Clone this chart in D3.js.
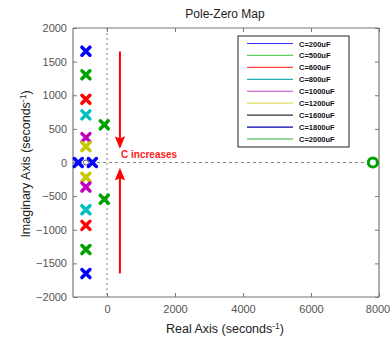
<!DOCTYPE html>
<html>
<head>
<meta charset="utf-8">
<script src="https://cdn.jsdelivr.net/npm/d3@7"></script>
<style>
  body { margin: 0; background: #fff; }
  svg { display: block; font-family: "Liberation Sans", Arial, sans-serif; }
</style>
</head>
<body>
<div id="chart"></div>
<script>
// Pole locations (real, imag) and marker colour
const poleRe = [-620, -620, -620, -620, -620, -620, -620, -620, -620, -620, -620, -620, -80, -80, -845, -430];
const poleIm = [1655, 1305, 940, 708, 370, 237, -220, -365, -702, -935, -1295, -1652, 560, -545, 0, 0];
const poleColor = ['#0000ff', '#00a000', '#ff0000', '#00c0c0', '#c000c0', '#c8c800',
                   '#c8c800', '#c000c0', '#00c0c0', '#ff0000', '#00a000', '#0000ff',
                   '#00a000', '#00a000', '#0000ff', '#0000ff'];

// Zeros
const zeroRe = [-620, 7820];
const zeroIm = [0, 0];
const zeroColor = ['#555', '#00a000'];

// Legend
const legendLabels = ['C=200uF', 'C=500uF', 'C=600uF', 'C=800uF', 'C=1000uF',
                      'C=1200uF', 'C=1600uF', 'C=1800uF', 'C=2000uF'];
const legendColors = ['#3030ff', '#60d060', '#ff4040', '#20b0b0', '#c040c0',
                      '#e0e060', '#333333', '#0000b0', '#30b030'];

const xTicks = [0, 2000, 4000, 6000, 8000];
const yTicks = [-2000, -1500, -1000, -500, 0, 500, 1000, 1500, 2000];

const width = 390, height = 341;
const pLeft = 73, pRight = 379, pTop = 28, pBottom = 297;

const svg = d3.select('#chart').append('svg')
    .attr('width', width).attr('height', height);

const x = d3.scaleLinear().domain([-1000, 8000]).range([pLeft, pRight]);
const y = d3.scaleLinear().domain([-2000, 2000]).range([pBottom, pTop]);

// reference lines through origin
svg.append('line')
    .attr('x1', pLeft).attr('x2', x(7820))
    .attr('y1', y(0)).attr('y2', y(0))
    .attr('stroke', '#888').attr('stroke-dasharray', '3,3');
svg.append('line')
    .attr('x1', x(0)).attr('x2', x(0))
    .attr('y1', pTop).attr('y2', pBottom)
    .attr('stroke', '#999').attr('stroke-width', 1.2).attr('stroke-dasharray', '2,3');

// axes, ticks pointing inside, mirrored on the other side
const axisColor = '#777';
const fmt = d3.format('d');
const gx = svg.append('g').attr('transform', `translate(0,${pBottom})`)
    .call(d3.axisBottom(x).tickValues(xTicks).tickFormat(fmt).tickSize(-4).tickPadding(8));
const gxTop = svg.append('g').attr('transform', `translate(0,${pTop})`)
    .call(d3.axisTop(x).tickValues(xTicks).tickSize(-4).tickFormat(''));
const gy = svg.append('g').attr('transform', `translate(${pLeft},0)`)
    .call(d3.axisLeft(y).tickValues(yTicks).tickFormat(fmt).tickSize(-4).tickPadding(6));
const gyRight = svg.append('g').attr('transform', `translate(${pRight},0)`)
    .call(d3.axisRight(y).tickValues(yTicks).tickSize(-4).tickFormat(''));

[gx, gxTop, gy, gyRight].forEach((g) => {
    g.select('.domain').attr('stroke', axisColor).attr('stroke-width', 1.2);
    g.selectAll('.tick line').attr('stroke', axisColor);
    g.selectAll('.tick text').attr('fill', '#555').style('font-size', '11px');
});
gx.select('.domain').attr('d', `M${pLeft},0H${pRight}`);
gxTop.select('.domain').attr('d', `M${pLeft},0H${pRight}`);
gy.select('.domain').attr('d', `M0,${pTop}V${pBottom}`);
gyRight.select('.domain').attr('d', `M0,${pTop}V${pBottom}`);
// keep the last x label inside the window
gx.selectAll('.tick text').filter((d) => d === 8000).attr('dx', -1.5);

// titles
svg.append('text').attr('x', 225).attr('y', 18)
    .attr('text-anchor', 'middle').style('font-size', '12px').attr('fill', '#222')
    .text('Pole-Zero Map');

const xl = svg.append('text').attr('x', 225).attr('y', 333)
    .attr('text-anchor', 'middle').style('font-size', '12.5px').attr('fill', '#222');
xl.append('tspan').text('Real Axis (seconds');
xl.append('tspan').attr('dy', -4.5).style('font-size', '8.5px').text('-1');
xl.append('tspan').attr('dy', 4.5).text(')');

const yl = svg.append('text')
    .attr('transform', `translate(30,164) rotate(-90)`)
    .attr('text-anchor', 'middle').style('font-size', '12.5px').attr('fill', '#222');
yl.append('tspan').text('Imaginary Axis (seconds');
yl.append('tspan').attr('dy', -4.5).style('font-size', '8.5px').text('-1');
yl.append('tspan').attr('dy', 4.5).text(')');

// zeros
svg.selectAll('circle.zero')
    .data(zeroRe.map((r, i) => ({ r, im: zeroIm[i], c: zeroColor[i] })))
    .enter().append('circle')
    .attr('class', 'zero')
    .attr('cx', (d) => x(d.r)).attr('cy', (d) => y(d.im))
    .attr('r', (d, i) => (i === 0 ? 2.5 : 4.6))
    .attr('fill', '#fff').attr('stroke', (d) => d.c)
    .attr('stroke-width', (d, i) => (i === 0 ? 1 : 3));

// poles as thick crosses
const s = 4;
svg.selectAll('path.pole')
    .data(poleRe.map((r, i) => ({ r, im: poleIm[i], c: poleColor[i] })))
    .enter().append('path')
    .attr('class', 'pole')
    .attr('transform', (d) => `translate(${x(d.r)},${y(d.im)})`)
    .attr('d', `M${-s},${-s}L${s},${s}M${-s},${s}L${s},${-s}`)
    .attr('stroke', (d) => d.c).attr('stroke-width', 3.5)
    .attr('stroke-linecap', 'round');

// red arrows + annotation
const arrowX = 380;
svg.append('defs').append('marker')
    .attr('id', 'head').attr('viewBox', '0 0 12 10')
    .attr('refX', 10).attr('refY', 5)
    .attr('markerWidth', 6.5).attr('markerHeight', 5.2)
    .attr('markerUnits', 'strokeWidth')
    .attr('orient', 'auto')
    .append('path').attr('d', 'M0,0L12,5L0,10L2,5Z').attr('fill', '#ff0000');

svg.append('line')
    .attr('x1', x(arrowX)).attr('x2', x(arrowX))
    .attr('y1', y(1650)).attr('y2', y(235))
    .attr('stroke', '#ff0000').attr('stroke-width', 2)
    .attr('marker-end', 'url(#head)');
svg.append('line')
    .attr('x1', x(arrowX)).attr('x2', x(arrowX))
    .attr('y1', y(-1650)).attr('y2', y(-110))
    .attr('stroke', '#ff0000').attr('stroke-width', 2)
    .attr('marker-end', 'url(#head)');

svg.append('text').attr('x', 121).attr('y', y(0) - 4.5)
    .attr('fill', '#ff2020').style('font-size', '10px').style('font-weight', 'bold')
    .text('C increases');

// legend
const lgX = 238, lgY = 36, lgW = 111, lgH = 111;
const lg = svg.append('g');
lg.append('rect').attr('x', lgX).attr('y', lgY).attr('width', lgW).attr('height', lgH)
    .attr('fill', '#fff').attr('stroke', '#222').attr('stroke-width', 1);
const rowY = d3.scalePoint().domain(legendLabels).range([lgY + 7.5, lgY + 103]);
legendLabels.forEach((lab, i) => {
    lg.append('line')
        .attr('x1', lgX + 9).attr('x2', lgX + 55)
        .attr('y1', rowY(lab)).attr('y2', rowY(lab))
        .attr('stroke', legendColors[i]).attr('stroke-width', 1.2);
    lg.append('text')
        .attr('x', lgX + 61).attr('y', rowY(lab) + 3)
        .style('font-size', '7.5px').style('font-weight', 'bold').attr('fill', '#111')
        .text(lab);
});
</script>
</body>
</html>
